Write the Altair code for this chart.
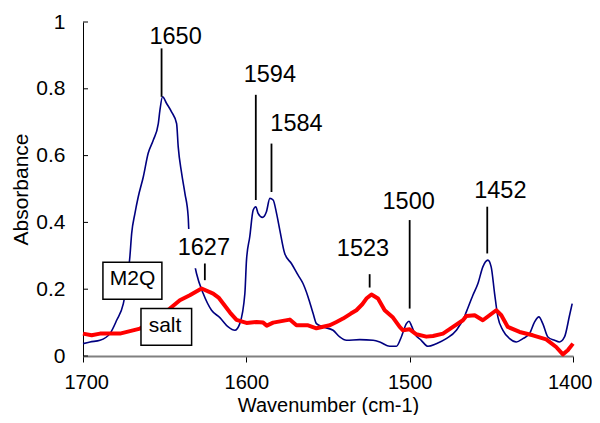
import altair as alt
import pandas as pd

# ---- spectra ----
m2q_wn = [1700, 1695.7, 1689.6, 1683.5, 1679.4, 1675.3, 1673.0, 1671.3, 1670.2, 1668.2,
          1666.2, 1663.1, 1660.1, 1657.0, 1653.9, 1652.9, 1651.3, 1648.8, 1645.8, 1642.7,
          1641.7, 1639.6, 1637.6, 1635.6, 1635.2, 1633.0, 1630.5, 1626.4, 1621.3, 1616.2,
          1611.1, 1607.0, 1604.0, 1600.9, 1599.9, 1597.9, 1595.8, 1594.2, 1592.8, 1590.1,
          1587.7, 1585.6, 1583.6, 1581.5, 1579.5, 1576.5, 1572.4, 1568.3, 1565.3, 1562.2,
          1559.1, 1557.1, 1553.0, 1546.9, 1542.8, 1538.7, 1530.6, 1522.4, 1518.3, 1512.2,
          1508.1, 1505.1, 1502.0, 1500.4, 1499.0, 1496.9, 1492.9, 1488.8, 1483.7, 1477.6,
          1471.4, 1469.4, 1467.4, 1465.3, 1461.3, 1458.2, 1455.2, 1452.1, 1450.1, 1448.0,
          1446.0, 1442.9, 1438.8, 1434.7, 1430.7, 1426.6, 1423.5, 1420.9, 1418.5, 1415.4,
          1411.3, 1408.3, 1405.2, 1402.1, 1400.5]
m2q_abs = [0.037, 0.042, 0.047, 0.067, 0.107, 0.157, 0.220, 0.297, 0.367, 0.427,
           0.476, 0.536, 0.607, 0.646, 0.696, 0.736, 0.776, 0.756, 0.731, 0.696,
           0.626, 0.547, 0.487, 0.417, 0.377, 0.310, 0.247, 0.187, 0.137, 0.115,
           0.087, 0.077, 0.097, 0.187, 0.287, 0.357, 0.437, 0.447, 0.427, 0.415,
           0.432, 0.472, 0.467, 0.427, 0.377, 0.307, 0.277, 0.242, 0.217, 0.177,
           0.127, 0.097, 0.087, 0.077, 0.057, 0.047, 0.049, 0.047, 0.042, 0.029,
           0.029, 0.057, 0.097, 0.104, 0.092, 0.067, 0.047, 0.029, 0.037, 0.052,
           0.077, 0.092, 0.107, 0.132, 0.182, 0.217, 0.267, 0.287, 0.267, 0.187,
           0.117, 0.077, 0.052, 0.042, 0.052, 0.067, 0.102, 0.117, 0.097, 0.057,
           0.047, 0.042, 0.057, 0.122, 0.157]

salt_wn = [1700, 1694.7, 1689.6, 1677.4, 1665.1, 1655.0, 1646.8, 1640.7, 1634.6, 1627.4,
           1620.3, 1617.0, 1614.2, 1610.0, 1606.0, 1602.0, 1599.9, 1593.8, 1589.7, 1587.5,
           1583.6, 1573.4, 1569.3, 1562.2, 1557.1, 1548.9, 1544.8, 1540.8, 1536.0, 1532.6,
           1529.0, 1526.5, 1523.4, 1519.4, 1515.3, 1510.2, 1506.1, 1504.1, 1500.0, 1495.9,
           1489.8, 1485.7, 1479.6, 1473.5, 1467.4, 1465.3, 1460.2, 1455.2, 1451.1, 1447.0,
           1443.9, 1439.9, 1432.7, 1424.6, 1416.4, 1410.3, 1406.2, 1403.2, 1400.0]
salt_abs = [0.067, 0.062, 0.067, 0.067, 0.082, 0.110, 0.142, 0.167, 0.182, 0.202,
            0.187, 0.175, 0.157, 0.130, 0.108, 0.102, 0.099, 0.102, 0.100, 0.091,
            0.100, 0.109, 0.092, 0.092, 0.083, 0.092, 0.102, 0.112, 0.127, 0.137,
            0.155, 0.172, 0.184, 0.172, 0.137, 0.115, 0.087, 0.077, 0.080, 0.065,
            0.058, 0.060, 0.067, 0.087, 0.107, 0.120, 0.122, 0.107, 0.122, 0.137,
            0.122, 0.087, 0.072, 0.062, 0.050, 0.027, 0.005, 0.017, 0.037]

# ---- peak annotations (data units) ----
peak_labels = ["1650", "1594", "1584", "1627", "1523", "1500", "1452"]
peak_wn = [1651.9, 1594.2, 1584.6, 1625.4, 1524.5, 1500.0, 1452.5]
peak_y1 = [0.776, 0.467, 0.491, 0.227, 0.205, 0.142, 0.307]
peak_y2 = [0.921, 0.782, 0.636, 0.277, 0.245, 0.407, 0.447]
label_wn = [1643.3, 1585.6, 1569.3, 1626.0, 1528.6, 1500.6, 1444.5]
label_y = [0.933, 0.821, 0.674, 0.302, 0.299, 0.439, 0.472]

# white label background behind "1627"
mask_wn1 = [1643.7]
mask_wn2 = [1608.3]
mask_y1 = [0.263]
mask_y2 = [0.380]

# ---- series name boxes ----
series_names = ["M2Q", "salt"]
box_wn1 = [1687.8, 1664.5]
box_wn2 = [1651.7, 1633.5]
box_y1 = [0.170, 0.032]
box_y2 = [0.281, 0.142]
box_text_wn = [1669.7, 1649.8]
box_text_y = [0.212, 0.072]

x_ticks = [1700, 1600, 1500, 1400]
y_ticks = [0, 0.2, 0.4, 0.6, 0.8, 1]

FONT = "Liberation Sans"

xscale = alt.Scale(domain=[1400, 1700], reverse=True, nice=False, zero=False)
yscale = alt.Scale(domain=[0, 1], nice=False)

xaxis = alt.Axis(values=x_ticks, format="d", title="Wavenumber (cm-1)", grid=False,
                 tickSize=6, tickColor="black", tickWidth=1,
                 domainColor="#808080", domainWidth=2,
                 labelPadding=10, labelFlush=True, labelFlushOffset=19,
                 labelOverlap=False,
                 labelFontSize=20, labelFont=FONT, labelColor="black",
                 titleFontSize=20, titleFont=FONT, titleColor="black",
                 titleFontWeight="normal", titleY=55, titleBaseline="alphabetic")
yaxis = alt.Axis(values=y_ticks, format="~g", title="Absorbance", grid=False,
                 ticks=False, tickSize=0, domainColor="black", domainWidth=1,
                 labelPadding=18, labelFlush=False, labelOverlap=False,
                 labelFontSize=21, labelFont=FONT, labelColor="black",
                 titleFontSize=21, titleFont=FONT, titleColor="black",
                 titleFontWeight="normal", titleX=-56, titleY=167,
                 titleBaseline="alphabetic")


def X(f):
    return alt.X(f, type="quantitative", scale=xscale, axis=xaxis)


def Y(f):
    return alt.Y(f, type="quantitative", scale=yscale, axis=yaxis)


m2q_df = pd.DataFrame({"wn": m2q_wn, "a": m2q_abs})
salt_df = pd.DataFrame({"wn": salt_wn, "a": salt_abs})
peak_df = pd.DataFrame({"label": peak_labels, "wn": peak_wn, "y1": peak_y1,
                        "y2": peak_y2, "lwn": label_wn, "ly": label_y})
mask_df = pd.DataFrame({"wn": mask_wn1, "wn2": mask_wn2, "a": mask_y1, "a2": mask_y2})
box_df = pd.DataFrame({"name": series_names, "wn": box_wn1, "wn2": box_wn2,
                       "a": box_y1, "a2": box_y2, "twn": box_text_wn, "ty": box_text_y})
ytick_df = pd.DataFrame({"a": y_ticks})

m2q_line = alt.Chart(m2q_df).mark_line(color="#000080", strokeWidth=1.6,
                                       interpolate="monotone").encode(
    x=X("wn"), y=Y("a"))
salt_line = alt.Chart(salt_df).mark_line(color="#ff0000", strokeWidth=4,
                                         strokeJoin="round").encode(x=X("wn"), y=Y("a"))
mask = alt.Chart(mask_df).mark_rect(color="white").encode(
    x=X("wn"), x2="wn2", y=Y("a"), y2="a2")
peak_rules = alt.Chart(peak_df).mark_rule(color="black", strokeWidth=1.8).encode(
    x=X("wn"), y=Y("y1"), y2="y2")
peak_text = alt.Chart(peak_df).mark_text(font=FONT, fontSize=23.5, color="black",
                                         align="center", baseline="alphabetic").encode(
    x=X("lwn"), y=Y("ly"), text="label")
boxes = alt.Chart(box_df).mark_rect(fill="white", stroke="black", strokeWidth=1.5).encode(
    x=X("wn"), x2="wn2", y=Y("a"), y2="a2")
box_text = alt.Chart(box_df).mark_text(font=FONT, fontSize=21, color="black",
                                       align="center", baseline="alphabetic").encode(
    x=X("twn"), y=Y("ty"), text="name")
yticks = alt.Chart(ytick_df).mark_rule(color="black", strokeWidth=1).encode(
    y=Y("a"), x=alt.value(0), x2=alt.value(5))

chart = alt.layer(m2q_line, salt_line, mask, peak_rules, peak_text, boxes, box_text,
                  yticks).properties(
    width=490, height=334,
    autosize=alt.AutoSizeParams(type="none"),
    padding={"left": 75, "top": 14, "right": 19, "bottom": 59},
    background="white",
).configure_view(stroke=None)

chart.save("out.html", embed_options={"renderer": "svg", "actions": False})
